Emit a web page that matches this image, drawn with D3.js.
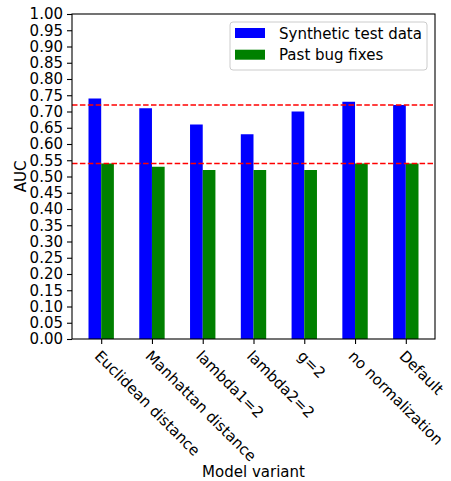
<!DOCTYPE html>
<html><head><meta charset="utf-8">
<script src="https://cdn.jsdelivr.net/npm/d3@7"></script>
<style>body{margin:0;background:#fff}svg{font-family:"DejaVu Sans",sans-serif}</style>
</head><body>
<svg id="c" width="451" height="481"></svg>
<script>
const categories = ["Euclidean distance","Manhattan distance","lambda1=2","lambda2=2","g=2","no normalization","Default"];
const syntheticValues = [0.74,0.71,0.66,0.63,0.70,0.73,0.72];
const bugFixValues = [0.54,0.53,0.52,0.52,0.52,0.54,0.54];
const seriesNames = ["Synthetic test data","Past bug fixes"];
const referenceLines = [0.72,0.54];
const yTicks = d3.range(0,1.0001,0.05);

const svg = d3.select("#c");
const L=72, R=435, T=14, B=339;
const fs = 15;
const y = d3.scaleLinear().domain([0,1]).range([B,T]);
const x = d3.scaleLinear().domain([-0.575, categories.length-1+0.575]).range([L,R]);
const bw = 0.25;

const g = svg.append("g");
categories.forEach((c,i)=>{
  g.append("rect").attr("x",x(i-bw)).attr("width",x(bw)-x(0)).attr("y",y(syntheticValues[i])).attr("height",y(0)-y(syntheticValues[i])).attr("fill","#0000ff");
  g.append("rect").attr("x",x(i)).attr("width",x(bw)-x(0)).attr("y",y(bugFixValues[i])).attr("height",y(0)-y(bugFixValues[i])).attr("fill","#008000");
});
referenceLines.forEach(v=>{
  g.append("line").attr("x1",L).attr("x2",R).attr("y1",y(v)).attr("y2",y(v))
   .attr("stroke","#ff0000").attr("stroke-width",1.5).attr("stroke-dasharray","5.5,2.4");
});
g.append("rect").attr("x",L).attr("y",T).attr("width",R-L).attr("height",B-T).attr("fill","none").attr("stroke","#000").attr("stroke-width",1.1);

const ya = svg.append("g").attr("transform",`translate(${L},0)`)
  .call(d3.axisLeft(y).tickValues(yTicks).tickFormat(d3.format(".2f")).tickSize(5).tickPadding(4));
ya.select(".domain").remove();
ya.selectAll("text").attr("font-size",fs).attr("font-family","DejaVu Sans").attr("fill","#000");
ya.selectAll("line").attr("stroke","#000").attr("stroke-width",1.1);

const xa = svg.append("g").attr("transform",`translate(0,${B})`)
  .call(d3.axisBottom(x).tickValues(d3.range(categories.length)).tickFormat(i=>categories[i]).tickSize(5));
xa.select(".domain").remove();
xa.selectAll("line").attr("stroke","#000").attr("stroke-width",1.1);
xa.selectAll("text").attr("font-size",fs).attr("font-family","DejaVu Sans").attr("fill","#000")
  .attr("text-anchor","start").attr("y",null).attr("dy",null)
  .attr("transform","translate(0,10) rotate(45)")
  .attr("dominant-baseline","hanging");

svg.append("text").attr("transform",`translate(26,${(T+B)/2}) rotate(-90)`).attr("text-anchor","middle")
  .attr("font-size",fs).text("AUC");
svg.append("text").attr("x",(L+R)/2).attr("y",477).attr("text-anchor","middle").attr("font-size",fs).text("Model variant");

const lg = svg.append("g");
lg.append("rect").attr("x",230).attr("y",22).attr("width",197).attr("height",48).attr("rx",3)
  .attr("fill","#fff").attr("fill-opacity",0.8).attr("stroke","#cccccc").attr("stroke-width",1);
const colors=["#0000ff","#008000"];
seriesNames.forEach((n,i)=>{
  lg.append("rect").attr("x",235).attr("y",28+i*21.7).attr("width",30).attr("height",10).attr("fill",colors[i]);
  lg.append("text").attr("x",279).attr("y",38.5+i*21.7).attr("font-size",fs).attr("fill","#000").text(n);
});
</script>
</body></html>
